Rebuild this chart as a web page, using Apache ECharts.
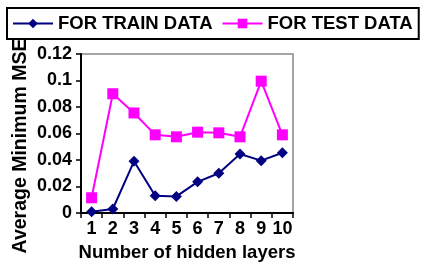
<!DOCTYPE html>
<html>
<head>
<meta charset="utf-8">
<script src="https://cdn.jsdelivr.net/npm/echarts@6/dist/echarts.min.js"></script>
<style>
  html, body { margin: 0; padding: 0; background: #fff; }
  #chart { width: 431px; height: 267px; }
</style>
</head>
<body>
<div id="chart"></div>
<script>
// 数据
const layers = ['1', '2', '3', '4', '5', '6', '7', '8', '9', '10'];
const trainMse = [0.001, 0.003, 0.039, 0.013, 0.0125, 0.0235, 0.030, 0.0445, 0.0395, 0.0455];
const testMse = [0.0115, 0.09, 0.0755, 0.059, 0.0575, 0.061, 0.0605, 0.0575, 0.0995, 0.059];

const font = 'Arial, "Liberation Sans", sans-serif';

const chart = echarts.init(document.getElementById('chart'));
chart.setOption({
  animation: false,
  textStyle: { fontFamily: font },
  legend: {
    left: 7,
    top: 8,
    padding: [6, 6, 6, 5],
    borderColor: '#000',
    borderWidth: 2,
    itemWidth: 40,
    itemHeight: 12,
    itemGap: 9,
    textStyle: { fontFamily: font, fontSize: 18.5, fontWeight: 'bold', color: '#000' },
    data: ['FOR TRAIN DATA', 'FOR TEST DATA']
  },
  grid: {
    left: 81,
    right: 138,
    top: 54,
    bottom: 50,
    show: true,
    borderColor: '#888',
    borderWidth: 1.5
  },
  xAxis: {
    type: 'category',
    data: layers,
    boundaryGap: true,
    name: 'Number of hidden layers',
    nameLocation: 'middle',
    nameGap: 30,
    nameTextStyle: { fontFamily: font, fontSize: 18.5, fontWeight: 'bold', color: '#000' },
    axisLine: { lineStyle: { color: '#000', width: 2 } },
    axisTick: { show: true, length: 5, lineStyle: { color: '#000', width: 1.5 } },
    axisLabel: { interval: 0, margin: 7, fontSize: 18, fontWeight: 'bold', color: '#000', fontFamily: font }
  },
  yAxis: {
    type: 'value',
    min: 0,
    max: 0.12,
    interval: 0.02,
    name: 'Average Minimum MSE',
    nameLocation: 'middle',
    nameGap: 50,
    nameTextStyle: { fontFamily: font, fontSize: 19.5, fontWeight: 'bold', color: '#000', padding: [0, 25, 0, 0] },
    splitLine: { show: false },
    axisLine: { show: true, lineStyle: { color: '#000', width: 2 } },
    axisTick: { show: true, length: 5, lineStyle: { color: '#000', width: 1.5 } },
    axisLabel: { margin: 9, fontSize: 18, fontWeight: 'bold', color: '#000', fontFamily: font }
  },
  series: [
    {
      name: 'FOR TRAIN DATA',
      type: 'line',
      data: trainMse,
      symbol: 'diamond',
      symbolSize: 11,
      color: '#000080',
      lineStyle: { width: 2, color: '#000080' }
    },
    {
      name: 'FOR TEST DATA',
      type: 'line',
      data: testMse,
      symbol: 'rect',
      symbolSize: 11,
      color: '#ff00ff',
      lineStyle: { width: 2, color: '#ff00ff' }
    }
  ]
});
</script>
</body>
</html>
